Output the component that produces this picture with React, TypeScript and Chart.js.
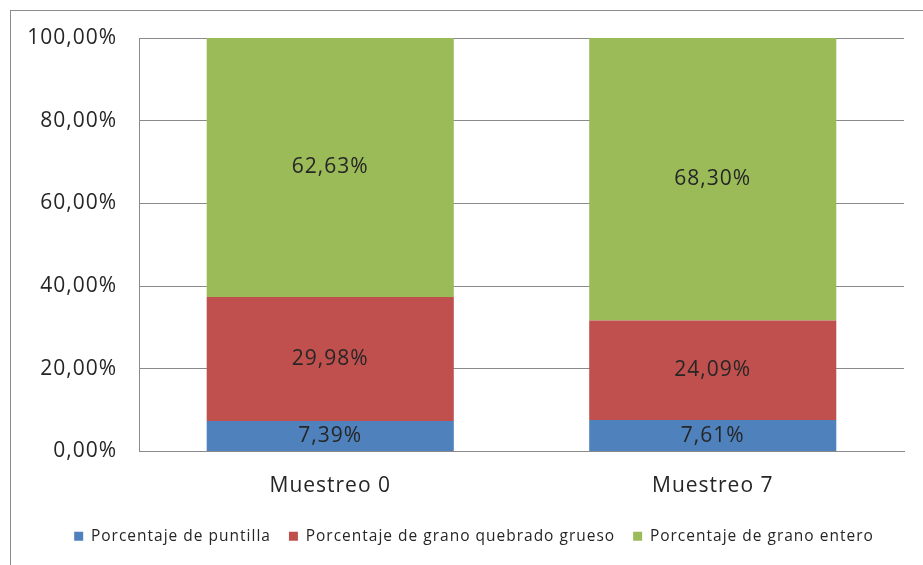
import React, { useEffect, useRef } from "react";
import { Chart, registerables } from "chart.js";

Chart.register(...registerables);

const categories = ["Muestreo 0", "Muestreo 7"];
const seriesNames = [
  "Porcentaje de puntilla",
  "Porcentaje de grano quebrado grueso",
  "Porcentaje de grano entero",
];
const puntilla = [7.39, 7.61];
const quebrado = [29.98, 24.09];
const entero = [62.63, 68.3];
const seriesColors = ["#4F81BD", "#C0504D", "#9BBB59"];
const yTicks = [0, 20, 40, 60, 80, 100];

const fmt = (v: number) => v.toFixed(2).replace(".", ",") + "%";
const FONT = "'Open Sans', 'DejaVu Sans', sans-serif";
const LEGEND_SHIFT = 22;

const spacingPlugin = {
  id: "spacing",
  beforeUpdate(chart: any) {
    chart.ctx.letterSpacing = "1px";
  },
  beforeLayout(chart: any) {
    chart.ctx.letterSpacing = "1px";
  },
  beforeDraw(chart: any) {
    chart.ctx.letterSpacing = "1px";
    const lg = chart.legend;
    if (lg && !lg.__patched) {
      lg.__patched = true;
      const orig = lg.draw.bind(lg);
      lg.draw = (...args: any[]) => {
        const ctx = chart.ctx;
        ctx.save();
        ctx.translate(LEGEND_SHIFT, 0);
        orig(...args);
        ctx.restore();
      };
    }
  },
};

const labelPlugin = {
  id: "segLabels",
  afterDatasetsDraw(chart: any) {
    const ctx = chart.ctx;
    ctx.save();
    ctx.letterSpacing = "1px";
    ctx.font = `21px ${FONT}`;
    ctx.fillStyle = "#262626";
    ctx.textAlign = "center";
    ctx.textBaseline = "middle";
    chart.data.datasets.forEach((ds: any, di: number) => {
      const meta = chart.getDatasetMeta(di);
      meta.data.forEach((el: any, i: number) => {
        const y = (el.y + el.base) / 2;
        ctx.fillText(fmt(ds.data[i]), el.x, y);
      });
    });
    ctx.restore();
  },
};

export default function App() {
  const ref = useRef<HTMLCanvasElement | null>(null);
  useEffect(() => {
    if (!ref.current) return;
    const chart = new Chart(ref.current, {
      type: "bar",
      data: {
        labels: categories,
        datasets: [puntilla, quebrado, entero].map((d, i) => ({
          label: seriesNames[i],
          data: d,
          backgroundColor: seriesColors[i],
          borderWidth: 0,
          categoryPercentage: 1,
          barPercentage: 0.646,
        })),
      },
      options: {
        responsive: false,
        animation: false,
        layout: { padding: { left: 0, top: 38, right: 19, bottom: 11 } },
        font: { family: FONT },
        scales: {
          x: {
            stacked: true,
            grid: { display: false },
            border: { display: true, color: "#8a8a8a", width: 1 },
            ticks: { color: "#262626", font: { family: FONT, size: 21 }, padding: 14 },
            afterFit: (s: any) => {
              s.height = 59;
            },
          },
          y: {
            stacked: true,
            min: 0,
            max: 100,
            afterBuildTicks: (s: any) => {
              s.ticks = yTicks.map((v) => ({ value: v }));
            },
            grid: { color: "#8a8a8a", drawTicks: false },
            border: { display: true, color: "#8a8a8a", width: 1 },
            ticks: {
              color: "#262626",
              font: { family: FONT, size: 21 },
              padding: 22,
              callback: (v: any) => fmt(Number(v)),
            },
            afterFit: (s: any) => {
              s.width = 139;
            },
          },
        },
        plugins: {
          legend: {
            position: "bottom",
            labels: {
              boxWidth: 9,
              boxHeight: 9,
              padding: 18,
              color: "#262626",
              font: { family: FONT, size: 15.5 },
            },
          },
          tooltip: { enabled: false },
        },
      } as any,
      plugins: [spacingPlugin, labelPlugin],
    });
    return () => chart.destroy();
  }, []);

  return (
    <div style={{ position: "fixed", left: 0, top: 0, width: 923, height: 565, background: "#fff", overflow: "hidden" }}>
      <div
        style={{
          position: "absolute",
          left: 10,
          top: 10,
          width: 1000,
          height: 1000,
          borderLeft: "1px solid #8c8c8c",
          borderTop: "1px solid #8c8c8c",
        }}
      />
      <canvas ref={ref} width={923} height={565} style={{ position: "absolute", left: 0, top: 0 }} />
    </div>
  );
}
